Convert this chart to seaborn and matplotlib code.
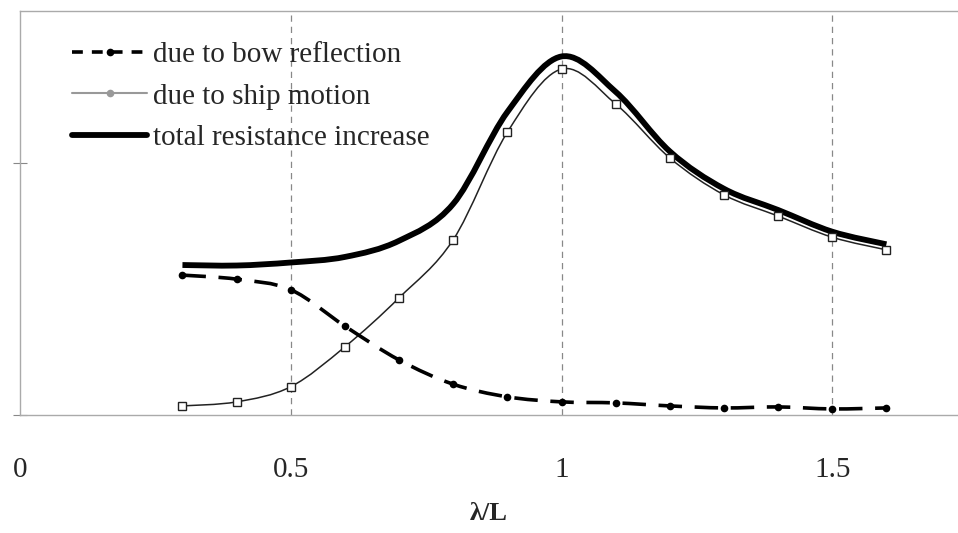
import matplotlib
matplotlib.use("Agg")
import matplotlib.pyplot as plt
from matplotlib.lines import Line2D
from matplotlib.path import Path
from matplotlib.patches import PathPatch
import numpy as np
import seaborn as sns
import pandas as pd

# wavelength / ship length
wave_ratio = [0.3, 0.4, 0.5, 0.6, 0.7, 0.8, 0.9, 1.0, 1.1, 1.2, 1.3, 1.4, 1.5, 1.6]
# added resistance components
bow_reflection = [2.77, 2.69, 2.48, 1.76, 1.09, 0.61, 0.36, 0.26, 0.24, 0.18, 0.14, 0.16, 0.12, 0.14]
ship_motion = [0.18, 0.26, 0.56, 1.35, 2.32, 3.47, 5.60, 6.85, 6.16, 5.09, 4.36, 3.94, 3.52, 3.27]
total_increase = [2.97, 2.96, 3.02, 3.13, 3.45, 4.18, 6.00, 7.10, 6.40, 5.22, 4.48, 4.06, 3.63, 3.38]

labels = ["due to bow reflection", "due to ship motion", "total resistance increase"]
x_ticks = [0, 0.5, 1, 1.5]
x_ticklabels = ["0", "0.5", "1", "1.5"]

sns.set_theme(style="white")
plt.rcParams["font.family"] = ["Liberation Serif", "DejaVu Serif"]

df = pd.DataFrame({
    "ratio": wave_ratio,
    "bow": bow_reflection,
    "motion": ship_motion,
    "total": total_increase,
})


def smooth_path(xs, ys):
    """Cubic Bezier path through the points (Catmull-Rom style tangents)."""
    p = np.column_stack([xs, ys]).astype(float)
    n = len(p)
    verts = [p[0]]
    codes = [Path.MOVETO]
    for i in range(n - 1):
        p0 = p[i - 1] if i > 0 else p[i]
        p3 = p[i + 2] if i + 2 < n else p[i + 1]
        c1 = p[i] + (p[i + 1] - p0) / 6.0
        c2 = p[i + 1] - (p3 - p[i]) / 6.0
        verts += [c1, c2, p[i + 1]]
        codes += [Path.CURVE4] * 3
    return Path(verts, codes)


fig = plt.figure(figsize=(9.58, 5.33), dpi=100)
ax = fig.add_axes([20 / 958, 1 - 415 / 533, 938 / 958, 404 / 533])

# vertical reference lines
for xv in [0.5, 1.0, 1.5]:
    ax.axvline(xv, color="#888888", lw=0.9, ls=(0, (5, 4)), zorder=0)

# smooth connecting curves
ax.add_patch(PathPatch(smooth_path(df["ratio"], df["total"]), fill=False,
                       edgecolor="black", lw=4.2, capstyle="butt", zorder=2))
ax.add_patch(PathPatch(smooth_path(df["ratio"], df["motion"]), fill=False,
                       edgecolor="#222222", lw=1.1, zorder=3))
ax.add_patch(PathPatch(smooth_path(df["ratio"], df["bow"]), fill=False,
                       edgecolor="black", lw=2.6, ls=(0, (6.5, 3.5)),
                       capstyle="butt", zorder=3))

# data point markers
sns.lineplot(data=df, x="ratio", y="motion", ax=ax, color="#222222", lw=0,
             marker="s", markersize=5.5, markerfacecolor="white",
             markeredgecolor="#222222", markeredgewidth=1.0, legend=False, zorder=4)
sns.lineplot(data=df, x="ratio", y="bow", ax=ax, color="black", lw=0,
             marker="o", markersize=5.5, markeredgewidth=0, legend=False, zorder=4)

ax.set_xlim(0, 938 / 541.5)
ax.set_ylim(0, 8)
ax.set_xticks(x_ticks)
ax.set_xticklabels(x_ticklabels, fontsize=21)
ax.set_yticks([0, 5])
ax.set_yticklabels(["", ""])
ax.tick_params(axis="x", direction="inout", length=6, width=0.8, color="#888888",
               pad=27, bottom=False)
ax.tick_params(axis="y", direction="inout", length=10, width=0.8, color="#888888",
               left=True)
ax.set_xlabel("λ/L", fontsize=19, fontweight="bold", labelpad=14)
ax.set_ylabel("")

for side in ["left", "bottom", "top"]:
    ax.spines[side].set_color("#aaaaaa")
    ax.spines[side].set_linewidth(1.0)
ax.spines["right"].set_visible(False)

handles = [
    Line2D([], [], color="black", lw=2.6, dashes=[3, 2.5], marker="o",
           markersize=5.5, markeredgewidth=0),
    Line2D([], [], color="#999999", lw=1.5, marker="o", markersize=5.5,
           markeredgewidth=0),
    Line2D([], [], color="black", lw=4.2),
]
ax.legend(handles, labels, loc="upper left", bbox_to_anchor=(0.0435, 0.953),
          frameon=False, fontsize=21, handlelength=2.55, handletextpad=0.2,
          labelspacing=0.52, borderaxespad=0)

fig.savefig("out.png", dpi=100)
